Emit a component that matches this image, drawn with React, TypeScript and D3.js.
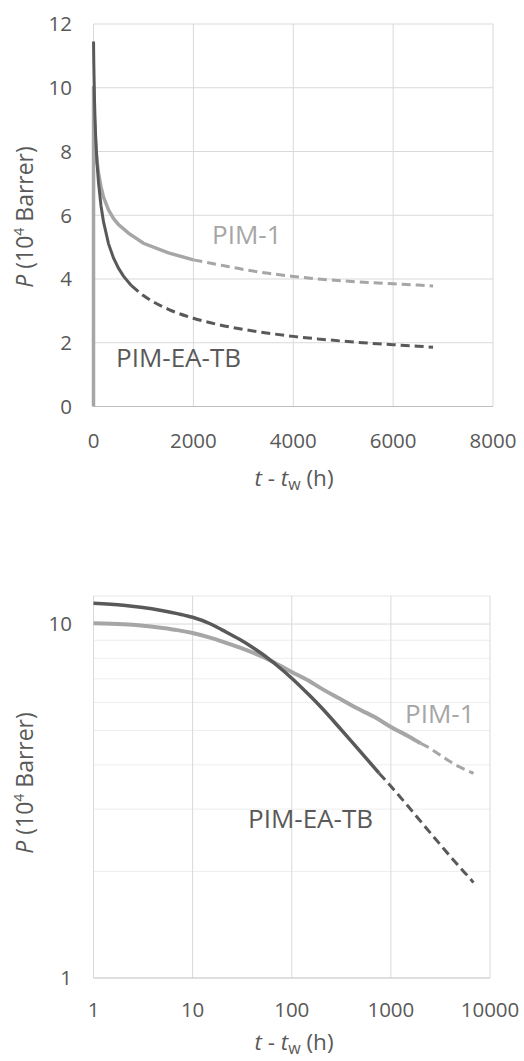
import React from "react";
import * as d3 from "d3";

// PIM-EA-TB: measured permeability (solid) and long-term fit (dashed), P in 10^4 Barrer
const eaTbTime = [1, 2, 3, 5, 7, 10, 15, 20, 30, 40, 50, 60, 70, 100, 150, 200, 300, 400, 500, 600, 760];
const eaTbMeasured = [11.45, 11.3, 11.15, 10.9, 10.7, 10.45, 10.02, 9.61, 9.04, 8.6, 8.24, 7.93, 7.66, 7.03, 6.3, 5.8, 5.11, 4.66, 4.34, 4.09, 3.79];
const eaTbFitTime = [760, 1000, 1500, 2000, 2500, 3000, 3500, 4000, 4500, 5000, 5500, 6000, 6500, 6800];
const eaTbFit = [3.79, 3.48, 3.05, 2.77, 2.57, 2.42, 2.3, 2.2, 2.12, 2.05, 1.99, 1.94, 1.89, 1.86];

// PIM-1: measured permeability (solid) and long-term fit (dashed)
const pim1Time = [1, 2, 3, 5, 7, 10, 15, 20, 30, 40, 50, 60, 70, 100, 150, 200, 300, 400, 500, 700, 1000, 1500, 2000];
const pim1Measured = [10.05, 9.98, 9.9, 9.74, 9.61, 9.43, 9.15, 8.92, 8.58, 8.32, 8.1, 7.9, 7.72, 7.32, 6.9, 6.57, 6.17, 5.9, 5.71, 5.44, 5.12, 4.82, 4.6];
const pim1FitTime = [2000, 2500, 3000, 3500, 4000, 4500, 5000, 5500, 6000, 6500, 6800];
const pim1Fit = [4.6, 4.45, 4.3, 4.18, 4.08, 4.0, 3.94, 3.89, 3.85, 3.81, 3.78];

// first logged reading of PIM-1 at t - tw = 0 (only shown on the linear plot)
const pim1StartTime = [0];
const pim1Start = [0];

// axis ticks
const linXTicks = [0, 2000, 4000, 6000, 8000];
const linYTicks = [0, 2, 4, 6, 8, 10, 12];
const logXTicks = [1, 10, 100, 1000, 10000];
const logYTicks = [1, 10];
const logYMinor = [2, 3, 4, 5, 6, 7, 8, 9];

const DARK = "#595959";
const LIGHT = "#a6a6a6";
const GRID = "#d9d9d9";
const FONT = "'Open Sans', 'Noto Sans', sans-serif";

type Pt = { t: number; p: number };
const zip = (ts: number[], ps: number[]): Pt[] => ts.map((t, i) => ({ t, p: ps[i] }));

const eaTbSolid = zip(eaTbTime, eaTbMeasured);
const eaTbDash = zip(eaTbFitTime, eaTbFit);
const pim1Solid = zip(pim1Time, pim1Measured);
const pim1Dash = zip(pim1FitTime, pim1Fit);
const pim1Linear = zip(pim1StartTime, pim1Start).concat(pim1Solid);

function YTitle({ x, y }: { x: number; y: number }) {
  return (
    <text
      transform={`translate(${x},${y}) rotate(-90)`}
      textAnchor="middle"
      fontSize={23}
      fill={DARK}
      fontFamily={FONT}
    >
      <tspan fontStyle="italic">P</tspan>
      <tspan> (10</tspan>
      <tspan fontSize={14} dy={-9}>4</tspan>
      <tspan dy={9}> Barrer)</tspan>
    </text>
  );
}

function XTitle({ x, y }: { x: number; y: number }) {
  return (
    <text x={x} y={y} textAnchor="middle" fontSize={22.5} fill={DARK} fontFamily={FONT}>
      <tspan fontStyle="italic">t</tspan>
      <tspan> - </tspan>
      <tspan fontStyle="italic">t</tspan>
      <tspan fontSize={16} dy={4}>w</tspan>
      <tspan dy={-4}> (h)</tspan>
    </text>
  );
}

function LinearChart() {
  const x = d3.scaleLinear().domain([0, 8000]).range([93.5, 493]);
  const y = d3.scaleLinear().domain([0, 12]).range([406.5, 24]);
  const smooth = d3
    .line<Pt>()
    .x((d) => x(d.t))
    .y((d) => y(d.p))
    .curve(d3.curveMonotoneX);
  const straight = d3
    .line<Pt>()
    .x((d) => x(d.t))
    .y((d) => y(d.p));
  const [x0, x1] = x.range();
  const [y0, y1] = y.range();
  return (
    <g>
      {linYTicks.slice(1).map((v) => (
        <line key={"hy" + v} x1={x0} x2={x1} y1={y(v)} y2={y(v)} stroke={GRID} strokeWidth={1} />
      ))}
      {linXTicks.slice(1).map((v) => (
        <line key={"vx" + v} x1={x(v)} x2={x(v)} y1={y0} y2={y1} stroke={GRID} strokeWidth={1} />
      ))}
      <line x1={x0} x2={x0} y1={y0} y2={y1} stroke={GRID} strokeWidth={1} />
      <line x1={x0} x2={x1} y1={y0} y2={y0} stroke="#bfbfbf" strokeWidth={1.2} />

      {linYTicks.map((v) => (
        <text key={"ty" + v} x={72} y={y(v)} dy="0.36em" textAnchor="end" fontSize={20.5} fill={DARK} fontFamily={FONT}>
          {v}
        </text>
      ))}
      {linXTicks.map((v) => (
        <text key={"tx" + v} x={x(v)} y={448} textAnchor="middle" fontSize={20.5} fill={DARK} fontFamily={FONT}>
          {v}
        </text>
      ))}

      <path d={smooth(pim1Dash) || ""} fill="none" stroke={LIGHT} strokeWidth={3} strokeDasharray="9,5" />
      <path d={smooth(eaTbDash) || ""} fill="none" stroke={DARK} strokeWidth={3} strokeDasharray="9,5" />
      <path d={straight(pim1Linear) || ""} fill="none" stroke={LIGHT} strokeWidth={3.5} />
      <path d={straight(eaTbSolid) || ""} fill="none" stroke={DARK} strokeWidth={3} />

      <text x={212} y={244} fontSize={26} fill={LIGHT} fontFamily={FONT}>PIM-1</text>
      <text x={116} y={367} fontSize={26} fill={DARK} fontFamily={FONT}>PIM-EA-TB</text>

      <YTitle x={33} y={217} />
      <XTitle x={294} y={486} />
    </g>
  );
}

function LogChart() {
  const x = d3.scaleLog().domain([1, 10000]).range([93.5, 490]);
  const y = d3.scaleLog().domain([1, 12]).range([978, 596]);
  const line = d3
    .line<Pt>()
    .x((d) => x(d.t))
    .y((d) => y(d.p))
    .curve(d3.curveMonotoneX);
  const [x0, x1] = x.range();
  const [y0, y1] = y.range();
  return (
    <g>
      {logYMinor.map((v) => (
        <line key={"my" + v} x1={x0} x2={x1} y1={y(v)} y2={y(v)} stroke="#eeeeee" strokeWidth={1} />
      ))}
      <line x1={x0} x2={x1} y1={y1} y2={y1} stroke="#e6e6e6" strokeWidth={1} />
      {logYTicks.slice(1).map((v) => (
        <line key={"hy" + v} x1={x0} x2={x1} y1={y(v)} y2={y(v)} stroke={GRID} strokeWidth={1} />
      ))}
      {logXTicks.slice(1).map((v) => (
        <line key={"vx" + v} x1={x(v)} x2={x(v)} y1={y0} y2={y1} stroke={GRID} strokeWidth={1} />
      ))}
      <line x1={x0} x2={x0} y1={y0} y2={y1} stroke={GRID} strokeWidth={1} />
      <line x1={x0} x2={x1} y1={y0} y2={y0} stroke="#bfbfbf" strokeWidth={1.2} />

      {logYTicks.map((v) => (
        <text key={"ty" + v} x={72} y={y(v)} dy="0.36em" textAnchor="end" fontSize={20.5} fill={DARK} fontFamily={FONT}>
          {v}
        </text>
      ))}
      {logXTicks.map((v) => (
        <text key={"tx" + v} x={x(v)} y={1017} textAnchor="middle" fontSize={20.5} fill={DARK} fontFamily={FONT}>
          {v}
        </text>
      ))}

      <path d={line(pim1Dash) || ""} fill="none" stroke={LIGHT} strokeWidth={3} strokeDasharray="9,5" />
      <path d={line(eaTbDash) || ""} fill="none" stroke={DARK} strokeWidth={3} strokeDasharray="9,5" />
      <path d={line(pim1Solid) || ""} fill="none" stroke={LIGHT} strokeWidth={4} />
      <path d={line(eaTbSolid) || ""} fill="none" stroke={DARK} strokeWidth={3.5} />

      <text x={405} y={723} fontSize={26} fill={LIGHT} fontFamily={FONT}>PIM-1</text>
      <text x={248} y={828} fontSize={26} fill={DARK} fontFamily={FONT}>PIM-EA-TB</text>

      <YTitle x={33} y={783} />
      <XTitle x={294} y={1050} />
    </g>
  );
}

export default function App() {
  return (
    <svg
      width={524}
      height={1061}
      viewBox="0 0 524 1061"
      style={{ position: "absolute", left: 0, top: 0, background: "#ffffff" }}
    >
      <rect width={524} height={1061} fill="#ffffff" />
      <LinearChart />
      <LogChart />
    </svg>
  );
}
